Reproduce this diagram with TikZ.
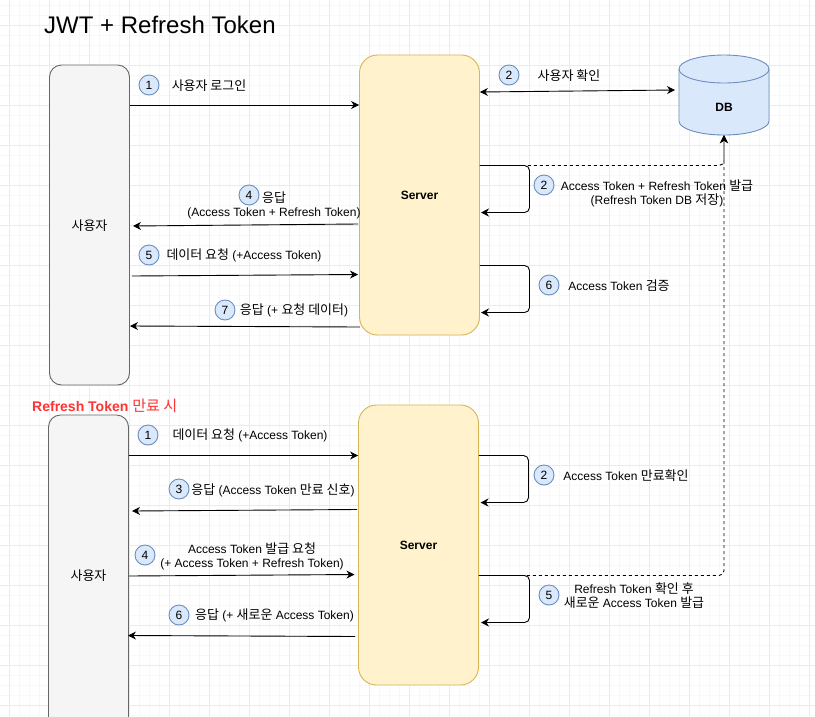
\documentclass[tikz,border=0pt]{standalone}
\usepackage{fontspec}
\setmainfont{Liberation Sans}
\newfontfamily\krfont[Scale=1.08]{Noto Sans CJK KR}
\newcommand{\ko}[1]{{\krfont\mdseries #1}}
\newcommand{\lowered}[2]{\raisebox{#1}[0pt][0pt]{#2}}
\usetikzlibrary{arrows.meta}
\definecolor{userFill}{HTML}{F5F5F5}
\definecolor{userLine}{HTML}{666666}
\definecolor{serverFill}{HTML}{FFF2CC}
\definecolor{serverLine}{HTML}{D6B656}
\definecolor{blueFill}{HTML}{DAE8FC}
\definecolor{blueLine}{HTML}{6C8EBF}
\definecolor{alertRed}{HTML}{FF3333}
\definecolor{gridMajor}{HTML}{EBEBEB}
\definecolor{gridMinor}{HTML}{F8F8F8}
\tikzset{
  user/.style={draw=userLine,fill=userFill,line width=0.9,rounded corners=12,minimum width=80,inner sep=0,font=\fontsize{12}{14}\selectfont},
  server/.style={draw=serverLine,fill=serverFill,line width=0.9,rounded corners=18,minimum width=120,minimum height=280,inner sep=0,font=\fontsize{12}{14}\selectfont\bfseries},
  num/.style={circle,draw=blueLine,fill=blueFill,line width=0.9,minimum size=20,inner sep=0,font=\fontsize{12}{14}\selectfont},
  txt/.style={align=center,inner sep=0,font=\fontsize{12}{14.5}\selectfont},
  flow/.style={-{Stealth[length=8,width=8]},black,line width=0.9},
  loopback/.style={flow,rounded corners=5},
  dbline/.style={flow,dash pattern=on 3 off 3,rounded corners=5},
}
\begin{document}
\begin{tikzpicture}[x=1pt,y=-1pt]
\useasboundingbox (0,0) rectangle (815,716);
\clip (0,0) rectangle (815,716);
% grid
\fill[white] (0,0) rectangle (815,716);
\foreach \gx in {9,19,...,809} \draw[gridMinor,line width=0.7] (\gx,0) -- (\gx,716);
\foreach \gy in {5,15,...,715} \draw[gridMinor,line width=0.7] (0,\gy) -- (815,\gy);
\foreach \gx in {9,49,...,809} \draw[gridMajor,line width=0.9] (\gx,0) -- (\gx,716);
\foreach \gy in {25,65,...,705} \draw[gridMajor,line width=0.9] (0,\gy) -- (815,\gy);

\node[anchor=west,inner sep=0,font=\fontsize{24}{28}\selectfont] (title) at (44,25) {JWT + Refresh Token};

% first flow
\node[user,minimum height=320] (userA) at (89.5,225) {\lowered{-5pt}{\ko{사용자}}};
\node[server] (serverA) at (419.5,195) {\lowered{-4.8pt}{Server}};
\draw[blueLine,fill=blueFill,line width=0.9] (679,69) arc[start angle=180,end angle=0,x radius=45pt,y radius=14pt] -- (769,121) arc[start angle=360,end angle=180,x radius=45pt,y radius=14pt] -- cycle;
\draw[blueLine,line width=0.9] (679,69) arc[start angle=180,end angle=360,x radius=45pt,y radius=14pt];
\node[minimum width=90,minimum height=80,inner sep=0,font=\fontsize{12}{14}\selectfont\bfseries] (dbA) at (724,95) {\lowered{-16pt}{DB}};

\coordinate (dbIn) at (675,90);
\coordinate (a4) at (358,224);
\coordinate (a4tip) at (133,226);
\coordinate (a5) at (132,276);
\coordinate (a5tip) at (358,274.5);
\coordinate (a7) at (360,327);
\coordinate (a7tip) at (130,326);

\draw[flow] (userA.east |- 0,105) -- (serverA.west |- 0,105);
\draw[flow,{Stealth[length=8,width=8]}-{Stealth[length=8,width=8]}] (serverA.east |- 0,92) -- (dbIn);
\draw[flow] (a4) -- (a4tip);
\draw[flow] (a5) -- (a5tip);
\draw[flow] (a7) -- (a7tip);
\draw[loopback] (serverA.east |- 0,165.5) -| (529.5,212.5) -- (481,212.5);
\draw[loopback] (serverA.east |- 0,265.5) -| (529.5,312.5) -- (481,312.5);
\draw[dbline] (serverA.east |- 0,165.5) -| (dbA.south);

\node[num] (n1) at (149,85) {1};
\node[txt] (t1) at (209,85.5) {\ko{사용자 로그인}};
\node[num] (n2) at (509,75) {2};
\node[txt] (t2) at (569,75.5) {\ko{사용자 확인}};
\node[num] (n4) at (249,195) {4};
\node[txt] (t4) at (274,205.5) {\ko{응답}\\(Access Token + Refresh Token)};
\node[num] (n5) at (149,255) {5};
\node[txt] (t5) at (244,255.5) {\ko{데이터 요청} (+Access Token)};
\node[num] (n7) at (225,310) {7};
\node[txt] (t7) at (294,310.5) {\ko{응답} (+ \ko{요청 데이터})};
\node[num] (n2b) at (544,185) {2};
\node[txt] (t2b) at (657,193.5) {Access Token + Refresh Token \ko{발급}\\(Refresh Token DB \ko{저장})};
\node[num] (n6) at (549,285) {6};
\node[txt] (t6) at (619,285.5) {Access Token \ko{검증}};

% second flow
\node[anchor=west,inner sep=0,text=alertRed,font=\fontsize{14}{16}\selectfont\bfseries] (alert) at (32,405.5) {Refresh Token \ko{만료 시}};
\node[user,minimum height=320] (userB) at (88.5,575) {\lowered{-5pt}{\ko{사용자}}};
\node[server] (serverB) at (418.5,545) {\lowered{-4.8pt}{Server}};

\coordinate (b3) at (357,509.5);
\coordinate (b3tip) at (132,511);
\coordinate (b4tip) at (354.5,574.5);
\coordinate (b6) at (355,636.5);
\coordinate (b6tip) at (128,635.5);

\draw[flow] (userB.east |- 0,455.5) -- (serverB.west |- 0,455.5);
\draw[flow] (b3) -- (b3tip);
\draw[flow] (userB.east |- 0,576) -- (b4tip);
\draw[flow] (b6) -- (b6tip);
\draw[loopback] (serverB.east |- 0,455.5) -| (528.5,502.5) -- (480.5,502.5);
\draw[loopback] (serverB.east |- 0,575.5) -| (529.5,622.5) -- (481,622.5);
\draw[dbline] (serverB.east |- 0,575.5) -| (dbA.south);

\node[num] (m1) at (148,435) {1};
\node[txt] (s1) at (250,435.5) {\ko{데이터 요청} (+Access Token)};
\node[num] (m3) at (179,489) {3};
\node[txt] (s3) at (273,490.5) {\ko{응답} (Access Token \ko{만료 신호})};
\node[num] (m4) at (145,555) {4};
\node[txt] (s4) at (252,556.5) {Access Token \ko{발급 요청}\\(+ Access Token + Refresh Token)};
\node[num] (m6) at (179,615) {6};
\node[txt] (s6) at (274.5,615.5) {\ko{응답} (+ \ko{새로운} Access Token)};
\node[num] (m2) at (544,475) {2};
\node[txt] (s2) at (626,475.5) {Access Token \ko{만료확인}};
\node[num] (m5) at (549,595) {5};
\node[txt] (s5) at (634,595.5) {Refresh Token \ko{확인 후}\\\ko{새로운} Access Token \ko{발급}};
\end{tikzpicture}
\end{document}
